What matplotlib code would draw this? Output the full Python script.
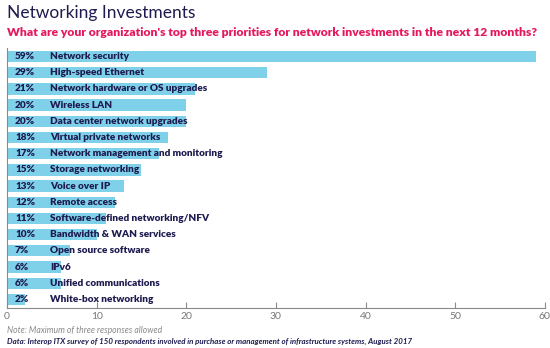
import matplotlib.pyplot as plt
import numpy as np

labels = [
    "Network security",
    "High-speed Ethernet",
    "Network hardware or OS upgrades",
    "Wireless LAN",
    "Data center network upgrades",
    "Virtual private networks",
    "Network management and monitoring",
    "Storage networking",
    "Voice over IP",
    "Remote access",
    "Software-defined networking/NFV",
    "Bandwidth & WAN services",
    "Open source software",
    "IPv6",
    "Unified communications",
    "White-box networking",
]
pcts = [59, 29, 21, 20, 20, 18, 17, 15, 13, 12, 11, 10, 7, 6, 6, 2]
xticks = [0, 10, 20, 30, 40, 50, 60]

navy = "#1d1b4f"
bar_color = "#7fd1ea"
grey = "#8a8a8a"

plt.rcParams['font.family'] = ['Lato', 'DejaVu Sans']

fig = plt.figure(figsize=(5.5, 3.48), dpi=100)
ax = fig.add_axes([0.0127, 0.114, 0.978, 0.748])

y = np.arange(len(pcts))
ax.barh(y, pcts, height=0.7, color=bar_color, zorder=1)

for i, (p, lab) in enumerate(zip(pcts, labels)):
    ax.text(0.9, i, "%d%%" % p, va='center', ha='left', fontsize=7.2,
            fontweight='heavy', color=navy, zorder=3)
    ax.text(4.8, i, lab, va='center', ha='left', fontsize=7.2,
            fontweight='heavy', color=navy, zorder=3)

ax.set_xlim(0, 60)
ax.set_ylim(15.55, -0.52)
ax.set_xticks(xticks)
ax.set_xticklabels([str(t) for t in xticks])
ax.tick_params(axis='x', direction='in', length=4, color=grey, labelcolor='#777777',
               labelsize=7.5, pad=3)
ax.tick_params(axis='y', left=False, labelleft=False)
for s in ['top', 'right']:
    ax.spines[s].set_visible(False)
ax.spines['bottom'].set_color(grey)
ax.spines['left'].set_color(grey)
ax.spines['bottom'].set_linewidth(0.8)
ax.spines['left'].set_linewidth(0.8)

fig.text(0.013, 0.962, "Networking Investments", fontsize=12.5, fontweight='normal',
         color=navy, va='center', ha='left')
fig.text(0.012, 0.907,
         "What are your organization's top three priorities for network investments in the next 12 months?",
         fontsize=8.7, fontweight='heavy', color='#e5185f', va='center', ha='left')
fig.text(0.013, 0.049, "Note: Maximum of three responses allowed", fontsize=6.2,
         style='italic', color=grey, va='center', ha='left')
fig.text(0.013, 0.020,
         "Data: Interop ITX survey of 150 respondents involved in purchase or management of infrastructure systems, August 2017",
         fontsize=5.7, style='italic', fontweight='bold', color=navy, va='center', ha='left')

fig.savefig("out.png", dpi=100)
